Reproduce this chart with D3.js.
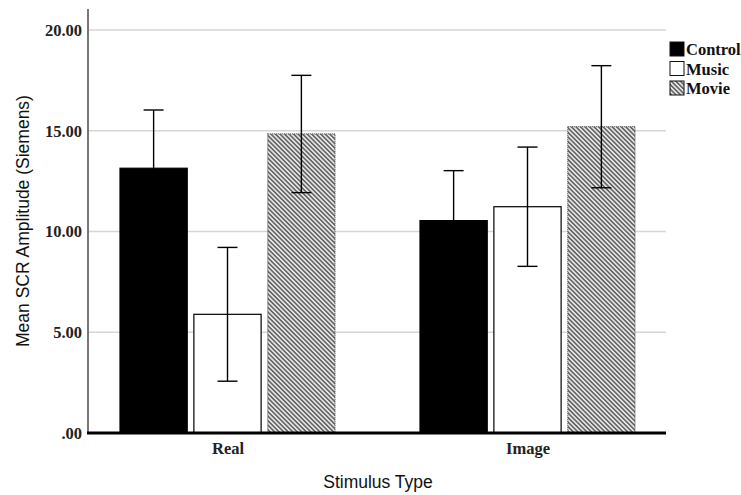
<!DOCTYPE html>
<html>
<head>
<script src="https://d3js.org/d3.v7.min.js"></script>
<style>
  body { margin: 0; background: #fff; }
</style>
</head>
<body>
<svg id="chart" width="741" height="495"></svg>
<script>
// data
var groups = ["Real", "Image"];
var seriesNames = ["Control", "Music", "Movie"];
var means = {
  Control: [13.14, 10.54],
  Music:   [5.89, 11.23],
  Movie:   [14.84, 15.20]
};
var errs = {
  Control: [2.89, 2.48],
  Music:   [3.32, 2.96],
  Movie:   [2.91, 3.03]
};
var yTicks = [0, 5, 10, 15, 20];

var svg = d3.select("#chart");
var x0 = 88, x1 = 666, yBase = 433, yTop = 30;

var y = d3.scaleLinear().domain([0, 20]).range([yBase, yTop]);
var gx = d3.scalePoint().domain(groups).range([227.5, 527.5]);
var sx = d3.scaleBand().domain(seriesNames).range([-107.5, 107.5]).paddingInner(0.09);

// hatch pattern for Movie
var defs = svg.append("defs");
var pat = defs.append("pattern")
  .attr("id", "hatch")
  .attr("patternUnits", "userSpaceOnUse")
  .attr("width", 3.2).attr("height", 3.2)
  .attr("patternTransform", "rotate(-45)");
pat.append("rect").attr("width", 3.2).attr("height", 3.2).attr("fill", "#e6e6e6");
pat.append("line").attr("x1", 0.8).attr("y1", 0).attr("x2", 0.8).attr("y2", 3.2)
  .attr("stroke", "#3a3a3a").attr("stroke-width", 1.2);

var fills = { Control: "#000", Music: "#fff", Movie: "url(#hatch)" };

// gridlines
svg.append("g").selectAll("line")
  .data(yTicks.filter(function(d) { return d > 0; }))
  .enter().append("line")
  .attr("x1", x0).attr("x2", x1)
  .attr("y1", function(d) { return y(d); })
  .attr("y2", function(d) { return y(d); })
  .attr("stroke", "#d6d6d6").attr("stroke-width", 1.5);

// y axis
var yAxis = d3.axisLeft(y).tickValues(yTicks).tickSize(0).tickPadding(6)
  .tickFormat(function(d) { return d === 0 ? ".00" : d3.format(".2f")(d); });
var ya = svg.append("g").attr("transform", "translate(" + x0 + ",0)").call(yAxis);
ya.select(".domain").remove();
ya.selectAll("text")
  .attr("font-family", "'Liberation Serif', serif")
  .attr("font-weight", "bold")
  .attr("font-size", 16.5)
  .attr("fill", "#222");
svg.append("line").attr("x1", x0).attr("x2", x0).attr("y1", 9).attr("y2", yBase)
  .attr("stroke", "#777").attr("stroke-width", 2);

// bars
groups.forEach(function(g, gi) {
  seriesNames.forEach(function(s) {
    var v = means[s][gi];
    svg.append("rect")
      .attr("x", gx(g) + sx(s))
      .attr("y", y(v))
      .attr("width", sx.bandwidth())
      .attr("height", yBase - y(v))
      .attr("fill", fills[s])
      .attr("stroke", s === "Movie" ? "#555" : "#000")
      .attr("stroke-width", 1.2)
      .attr("stroke-dasharray", s === "Movie" ? "1,1" : null);
  });
});

// error bars
groups.forEach(function(g, gi) {
  seriesNames.forEach(function(s) {
    var cx = gx(g) + sx(s) + sx.bandwidth() / 2;
    var m = means[s][gi], e = errs[s][gi];
    var eg = svg.append("g").attr("stroke", "#000").attr("stroke-width", 1.4);
    eg.append("line").attr("x1", cx).attr("x2", cx).attr("y1", y(m + e)).attr("y2", y(m - e));
    eg.append("line").attr("x1", cx - 10).attr("x2", cx + 10).attr("y1", y(m + e)).attr("y2", y(m + e));
    eg.append("line").attr("x1", cx - 10).attr("x2", cx + 10).attr("y1", y(m - e)).attr("y2", y(m - e));
  });
});

// x axis baseline
svg.append("line").attr("x1", x0 - 1).attr("x2", x1).attr("y1", yBase).attr("y2", yBase)
  .attr("stroke", "#000").attr("stroke-width", 3);

// category labels
var xAxis = d3.axisBottom(gx).tickSize(0).tickPadding(9);
var xa = svg.append("g").attr("transform", "translate(0," + yBase + ")").call(xAxis);
xa.select(".domain").remove();
xa.selectAll("text")
  .attr("font-family", "'Liberation Serif', serif")
  .attr("font-weight", "bold")
  .attr("font-size", 16.5)
  .attr("fill", "#222");

// axis titles
svg.append("text")
  .attr("x", 378).attr("y", 488)
  .attr("text-anchor", "middle")
  .attr("font-family", "'Liberation Sans', Arial, sans-serif")
  .attr("font-size", 17.5)
  .attr("fill", "#111")
  .text("Stimulus Type");
svg.append("text")
  .attr("transform", "translate(29,221) rotate(-90)")
  .attr("text-anchor", "middle")
  .attr("font-family", "'Liberation Sans', Arial, sans-serif")
  .attr("font-size", 17.5)
  .attr("fill", "#111")
  .text("Mean SCR Amplitude (Siemens)");

// legend
var leg = svg.append("g").attr("transform", "translate(670,42)");
seriesNames.forEach(function(s, i) {
  var row = leg.append("g").attr("transform", "translate(0," + (i * 19.5) + ")");
  row.append("rect").attr("width", 14).attr("height", 14)
    .attr("fill", fills[s]).attr("stroke", "#111").attr("stroke-width", 1);
  row.append("text").attr("x", 16).attr("y", 13)
    .attr("font-family", "'Liberation Serif', serif")
    .attr("font-weight", "bold")
    .attr("font-size", 16.5)
    .attr("fill", "#111")
    .text(s);
});
</script>
</body>
</html>
